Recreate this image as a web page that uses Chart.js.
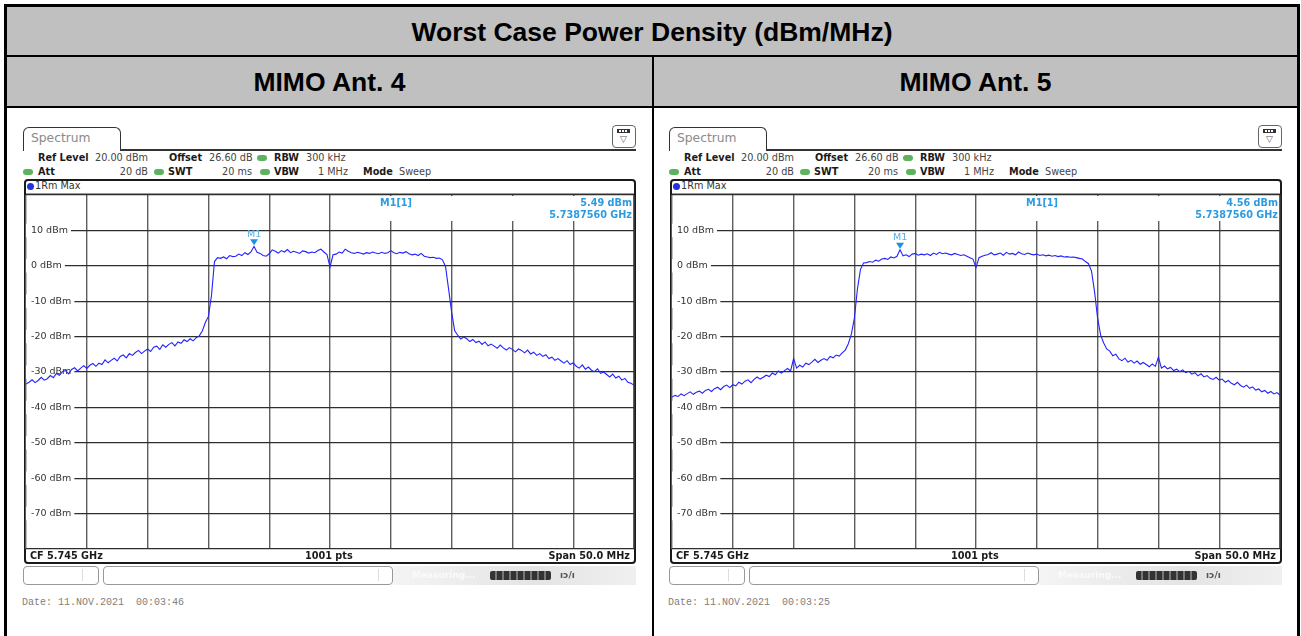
<!DOCTYPE html>
<html><head><meta charset="utf-8">
<script src="https://cdn.jsdelivr.net/npm/chart.js@4.4.1/dist/chart.umd.min.js"></script>
<style>
html,body{margin:0;padding:0;background:#fff;width:1301px;height:636px;overflow:hidden;position:relative;}
.a{position:absolute;}
.hdr{position:absolute;font-family:"Liberation Sans",Arial,sans-serif;font-weight:bold;color:#000;text-align:center;white-space:nowrap;font-size:26.5px;line-height:30px;}
.t{position:absolute;font-family:"DejaVu Sans",Verdana,sans-serif;font-size:9.7px;line-height:14px;white-space:nowrap;color:#444;}
.b{font-weight:bold;color:#1a1a1a;}
.dot{position:absolute;width:10px;height:6px;border-radius:3px;background:#5db35d;}
.mk{position:absolute;font-family:"DejaVu Sans",Verdana,sans-serif;font-size:9.7px;line-height:12px;white-space:nowrap;color:#2d9be0;font-weight:bold;}
</style></head><body>
<div class="a" style="left:7px;top:7px;width:1290px;height:99px;background:#c0c0c0"></div>
<div class="a" style="left:4px;top:4px;width:1296px;height:3px;background:#000"></div>
<div class="a" style="left:4px;top:4px;width:3px;height:632px;background:#000"></div>
<div class="a" style="left:1297px;top:4px;width:3px;height:632px;background:#000"></div>
<div class="a" style="left:4px;top:55px;width:1296px;height:2px;background:#000"></div>
<div class="a" style="left:4px;top:106px;width:1296px;height:2px;background:#000"></div>
<div class="a" style="left:652px;top:55px;width:2px;height:581px;background:#000"></div>
<div class="hdr" style="left:7px;top:17px;width:1290px">Worst Case Power Density (dBm/MHz)</div>
<div class="hdr" style="left:7px;top:67px;width:645px">MIMO Ant. 4</div>
<div class="hdr" style="left:654px;top:67px;width:643px">MIMO Ant. 5</div>
<div id="panels"></div>
<script>
// ---- data ----
const panelTitles = ['MIMO Ant. 4', 'MIMO Ant. 5'];
const startMHz = 5720, stopMHz = 5770, stepMHz = 0.25;   // sweep grid (span 50 MHz)
const levelTicks = [10, 0, -10, -20, -30, -40, -50, -60, -70];
const markerFreqMHz = [18.756, 18.756];   // offset from 5720 MHz -> 5.7387560 GHz
const markerLevel = [5.49, 4.56];
const markerText = ['5.49 dBm', '4.56 dBm'];
const markerFreqText = ['5.7387560 GHz', '5.7387560 GHz'];
const dateText = ['Date: 11.NOV.2021  00:03:46', 'Date: 11.NOV.2021  00:03:25'];

const ant4 = [
-33.4,-32.9,-32.2,-33.0,-32.4,-31.5,-32.3,-31.9,-31.0,-31.6,
-30.4,-30.9,-29.9,-29.6,-30.5,-29.3,-28.8,-29.7,-28.9,-28.2,
-29.0,-28.1,-27.6,-28.4,-27.5,-27.9,-26.6,-27.4,-26.7,-26.1,
-26.9,-25.6,-25.2,-26.0,-24.8,-25.3,-24.5,-23.9,-24.8,-24.1,
-23.5,-24.2,-23.0,-22.7,-23.6,-22.3,-23.0,-22.2,-21.7,-22.6,
-21.5,-21.9,-20.9,-21.4,-20.6,-21.2,-20.3,-19.8,-18.4,-16.0,
-14.3,-8.5,1.2,2.3,2.1,2.5,2.0,2.9,2.6,2.7,
3.3,2.9,3.7,3.2,3.9,5.49,3.8,3.5,2.9,2.7,
3.4,4.5,4.1,3.6,4.3,3.9,4.6,3.7,4.1,3.8,
3.5,4.2,4.0,3.6,3.9,3.7,4.3,4.7,3.9,3.2,
-0.3,3.1,3.3,3.9,3.6,4.7,4.1,3.7,3.5,3.8,
3.6,3.3,3.7,3.5,3.9,3.6,3.4,3.8,3.5,3.7,
4.3,3.7,3.4,3.8,3.6,4.0,3.4,3.1,3.3,2.9,
3.5,2.7,2.5,2.3,2.4,2.1,2.2,1.7,-0.2,-6.5,
-13.0,-18.3,-19.6,-20.7,-20.1,-20.6,-21.4,-20.8,-21.7,-21.3,
-22.2,-21.5,-22.6,-22.1,-22.7,-23.3,-22.4,-23.2,-23.8,-23.1,
-23.6,-24.3,-23.5,-23.9,-24.6,-23.8,-24.9,-24.4,-25.3,-24.8,
-25.6,-25.1,-26.2,-25.8,-26.7,-26.2,-26.9,-27.5,-26.8,-27.9,
-27.4,-28.4,-28.9,-28.0,-29.2,-28.6,-29.5,-29.9,-29.1,-30.4,
-30.0,-30.7,-31.4,-30.6,-31.7,-31.2,-32.3,-31.8,-32.9,-33.2,
-33.7];

const ant5 = [
-37.1,-36.6,-36.9,-36.2,-36.7,-36.1,-35.6,-36.3,-35.7,-35.4,
-36.0,-35.2,-34.9,-35.5,-34.7,-34.3,-35.0,-34.1,-33.7,-34.4,
-33.6,-33.9,-32.9,-33.4,-32.6,-32.2,-33.0,-32.1,-31.4,-32.0,
-31.5,-30.9,-31.3,-30.3,-30.8,-29.7,-30.3,-29.6,-29.0,-29.7,
-26.2,-28.9,-28.1,-28.6,-27.5,-27.9,-27.2,-26.4,-27.3,-26.7,
-26.2,-26.7,-25.6,-26.0,-25.2,-25.5,-24.6,-23.8,-22.0,-19.3,
-14.8,-6.5,-1.0,0.8,0.9,1.2,1.0,1.6,1.3,1.9,
2.1,1.8,2.5,2.2,2.7,4.56,2.8,3.1,2.6,3.3,
3.5,3.0,3.3,3.1,3.4,2.9,3.6,3.2,3.8,3.4,
3.6,3.3,3.1,3.5,3.2,2.9,3.1,2.7,2.3,1.9,
-0.5,2.3,2.7,3.0,3.2,3.7,3.1,3.3,3.6,3.0,
3.8,3.3,3.5,3.1,3.9,3.4,3.2,3.6,3.3,3.1,
3.3,2.9,3.1,2.8,3.0,2.7,2.9,2.6,2.8,2.5,
2.6,2.4,2.5,2.3,2.1,1.9,1.2,0.6,-1.5,-7.3,
-14.8,-19.6,-21.8,-23.5,-24.1,-25.4,-25.0,-26.3,-26.8,-26.1,
-27.2,-26.7,-27.5,-26.9,-27.8,-27.3,-27.9,-28.5,-27.7,-28.4,
-25.8,-28.9,-28.3,-29.1,-28.7,-29.6,-29.2,-29.9,-29.4,-30.2,
-29.8,-30.6,-30.2,-31.1,-30.5,-31.4,-31.0,-31.8,-32.1,-31.5,
-32.3,-32.0,-32.9,-32.4,-33.2,-33.6,-32.9,-33.8,-34.3,-33.7,
-34.6,-34.2,-35.1,-34.8,-35.6,-35.2,-36.0,-35.5,-36.2,-35.8,
-36.5];

const traces = [ant4, ant5];

// ---- panel chrome ----
function panelHTML(ox, k) {
  const L = v => (ox + v) + 'px';
  return `
  <div class="a" style="left:${L(23)};top:127px;width:96px;height:23px;border:1.5px solid #333;border-bottom:none;border-radius:6px 6px 0 0;background:#fff"></div>
  <div class="a" style="left:${L(31)};top:130px;font-family:'DejaVu Sans',Verdana,sans-serif;font-size:12.3px;color:#8a8a8a;line-height:16px">Spectrum</div>
  <div class="a" style="left:${L(121)};top:149px;width:515px;height:1.5px;background:#333"></div>
  <div class="a" style="left:${L(612)};top:125px;width:22px;height:21px;border:1.5px solid #666;border-radius:4px;background:#fff"></div>
  <div class="a" style="left:${L(617)};top:129px;width:13px;height:4px;background:#333"></div>
  <div class="a" style="left:${L(619)};top:130px;width:2px;height:2px;background:#fff"></div>
  <div class="a" style="left:${L(622)};top:130px;width:2px;height:2px;background:#fff"></div>
  <div class="a" style="left:${L(625)};top:130px;width:2px;height:2px;background:#fff"></div>
  <div class="a" style="left:${L(617)};top:133px;width:13px;font-size:9px;line-height:12px;color:#555;text-align:center;font-family:'DejaVu Sans'">▽</div>

  <span class="t b" style="left:${L(38)};top:151px">Ref Level</span>
  <span class="t" style="left:${L(95)};top:151px">20.00 dBm</span>
  <span class="t b" style="left:${L(169)};top:151px">Offset</span>
  <span class="t" style="left:${L(209)};top:151px">26.60 dB</span>
  <div class="dot" style="left:${L(257)};top:155px"></div>
  <span class="t b" style="left:${L(274)};top:151px">RBW</span>
  <span class="t" style="left:${L(306)};top:151px">300 kHz</span>

  <div class="dot" style="left:${L(23)};top:169px"></div>
  <span class="t b" style="left:${L(38)};top:165px">Att</span>
  <span class="t" style="left:${L(88)};top:165px;width:60px;text-align:right">20 dB</span>
  <div class="dot" style="left:${L(154)};top:169px"></div>
  <span class="t b" style="left:${L(168)};top:165px">SWT</span>
  <span class="t" style="left:${L(192)};top:165px;width:60px;text-align:right">20 ms</span>
  <div class="dot" style="left:${L(260)};top:169px"></div>
  <span class="t b" style="left:${L(274)};top:165px">VBW</span>
  <span class="t" style="left:${L(288)};top:165px;width:60px;text-align:right">1 MHz</span>
  <span class="t b" style="left:${L(363)};top:165px">Mode</span>
  <span class="t" style="left:${L(399)};top:165px">Sweep</span>

  <div class="a" style="left:${L(24)};top:179px;width:608px;height:381px;border:2px solid #1a1a1a;border-radius:4px;background:#fff"></div>
  <div class="a" style="left:${L(27)};top:183px;width:7px;height:7px;border-radius:50%;background:#2233dd"></div>
  <span class="t" style="left:${L(35)};top:179px;color:#333">1Rm Max</span>
  <div class="a" style="left:${L(26)};top:193px;width:608px;height:2px;background:#9a9a9a"></div>

  <canvas id="c${k}" width="612" height="358" style="position:absolute;left:${L(24)};top:193px"></canvas>

  <div class="a" style="left:${L(333)};top:196px;width:300px;height:25px;background:#fff"></div>
  <span class="mk" style="left:${L(380)};top:197px">M1[1]</span>
  <span class="mk" style="left:${L(482)};top:197px;width:150px;text-align:right">${markerText[k]}</span>
  <span class="mk" style="left:${L(482)};top:209px;width:150px;text-align:right">${markerFreqText[k]}</span>

  <span class="t b" style="left:${L(30)};top:549px">CF 5.745 GHz</span>
  <span class="t b" style="left:${L(305)};top:549px">1001 pts</span>
  <span class="t b" style="left:${L(480)};top:549px;width:150px;text-align:right">Span 50.0 MHz</span>

  <div class="a" style="left:${L(393)};top:566px;width:243px;height:19px;background:linear-gradient(90deg,#f4f4f4,#e4e4e4 60%,#f0f0f0)"></div>
  <div class="a" style="left:${L(23)};top:566px;width:74px;height:17px;border:1px solid #999;border-radius:4px;background:#fff"></div>
  <div class="a" style="left:${L(82)};top:569px;width:1px;height:12px;background:#ddd"></div>
  <div class="a" style="left:${L(103)};top:566px;width:288px;height:17px;border:1px solid #999;border-radius:4px;background:#fff"></div>
  <div class="a" style="left:${L(378)};top:569px;width:1px;height:12px;background:#ddd"></div>
  <span class="t b" style="left:${L(412)};top:568px;color:#fafafa;font-size:9px">Measuring...</span>
  <div class="a" style="left:${L(490)};top:571px;width:61px;height:9px;border-radius:2px;background:repeating-linear-gradient(90deg,#333 0,#333 5px,#777 5px,#777 7px)"></div>
  <span class="t b" style="left:${L(560)};top:568px;color:#555;font-size:9px">ıↄ/ı</span>

  <div class="a" style="left:${L(22)};top:596px;font-family:'Liberation Mono','Courier New',monospace;font-size:10px;line-height:14px;color:#808080;white-space:pre">${dateText[k]}</div>
  `;
}
document.getElementById('panels').innerHTML = panelHTML(0, 0) + panelHTML(646, 1);

// ---- charts ----
const sweep = [];
for (let f = 0; f <= (stopMHz - startMHz) + 1e-9; f += stepMHz) sweep.push(+f.toFixed(2));

const markerPlugin = {
  id: 'marker',
  afterDatasetsDraw(chart, args, opts) {
    const {ctx, scales: {x, y}} = chart;
    const px = x.getPixelForValue(opts.f), py = y.getPixelForValue(opts.v);
    ctx.save();
    ctx.fillStyle = '#1f8fe0';
    ctx.beginPath();
    ctx.moveTo(px - 4, py - 7); ctx.lineTo(px + 4, py - 7); ctx.lineTo(px, py - 1); ctx.closePath();
    ctx.fill();
    ctx.font = '9.5px "DejaVu Sans"';
    ctx.fillStyle = '#58aee6';
    ctx.textAlign = 'center'; ctx.textBaseline = 'bottom';
    ctx.fillText('M1', px, py - 7.5);
    ctx.restore();
  }
};

function zeroFit(scale) {
  if (scale.isHorizontal()) scale.height = 0; else scale.width = 0;
  scale.paddingTop = 0; scale.paddingBottom = 0; scale.paddingLeft = 0; scale.paddingRight = 0;
}

traces.forEach((vals, k) => {
  new Chart(document.getElementById('c' + k), {
    type: 'line',
    data: { datasets: [{
      data: sweep.map((f, i) => ({x: f, y: vals[i]})),
      borderColor: '#2323ff', borderWidth: 1.1, pointRadius: 0, tension: 0, fill: false
    }]},
    plugins: [markerPlugin],
    options: {
      responsive: false, animation: false, devicePixelRatio: 1,
      layout: { padding: {left: 2, right: 2, top: 2, bottom: 2} },
      plugins: { legend: {display: false}, tooltip: {enabled: false},
        marker: { f: markerFreqMHz[k], v: markerLevel[k] } },
      scales: {
        x: { type: 'linear', min: 0, max: stopMHz - startMHz,
             ticks: { stepSize: 5, display: false },
             grid: { color: '#5e5e5e', lineWidth: 1.4, drawTicks: false },
             border: { display: false }, afterFit: zeroFit },
        y: { type: 'linear', min: -80, max: 20,
             ticks: { stepSize: 10, mirror: true, padding: 5,
                      color: '#333', font: { family: 'DejaVu Sans', size: 9.5 },
                      showLabelBackdrop: true,
                      backdropColor: c => levelTicks.includes(c.tick && c.tick.value) ? '#ffffff' : 'rgba(0,0,0,0)',
                      backdropPadding: { left: 5, right: 3, top: 1, bottom: 1 },
                      callback: v => levelTicks.includes(v) ? v + ' dBm' : '' },
             grid: { color: '#2e2e2e', lineWidth: 1.2, drawTicks: false },
             border: { display: false }, afterFit: zeroFit }
      }
    }
  });
});
</script>
</body></html>
